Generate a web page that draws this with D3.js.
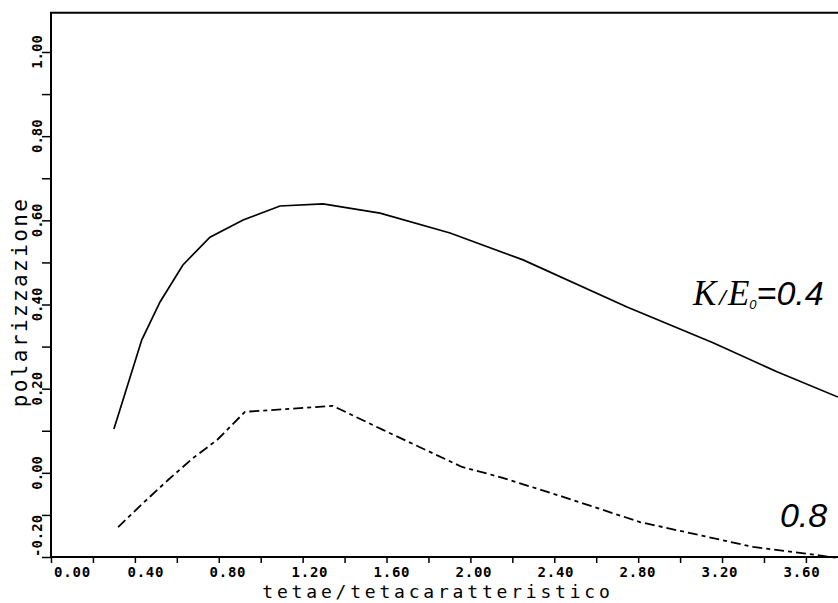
<!DOCTYPE html>
<html>
<head>
<meta charset="utf-8">
<script src="https://cdn.jsdelivr.net/npm/d3@7"></script>
<style>
    body { margin: 0; background: #fff; }
</style>
</head>
<body>
<div class="container"></div>
<script>
// curve K/E0 = 0.4 (solid)
var solidX = [0.300, 0.433, 0.520, 0.629, 0.758, 0.916, 1.092, 1.297, 1.569, 1.903, 2.251, 2.747, 3.157, 3.462, 3.753];
var solidY = [0.104, 0.316, 0.406, 0.494, 0.560, 0.601, 0.634, 0.639, 0.617, 0.570, 0.506, 0.394, 0.309, 0.240, 0.180];

// curve K/E0 = 0.8 (dashed)
var dashX = [0.320, 0.439, 0.558, 0.677, 0.792, 0.925, 1.345, 1.583, 1.960, 2.141, 2.442, 2.809, 3.348, 3.753];
var dashY = [-0.129, -0.072, -0.017, 0.035, 0.078, 0.145, 0.159, 0.102, 0.014, -0.010, -0.057, -0.117, -0.176, -0.202];

var xTicks = [0, 0.2, 0.4, 0.6, 0.8, 1.0, 1.2, 1.4, 1.6, 1.8, 2.0, 2.2, 2.4, 2.6, 2.8, 3.0, 3.2, 3.4, 3.6];
var xLabels = [0.00, 0.40, 0.80, 1.20, 1.60, 2.00, 2.40, 2.80, 3.20, 3.60];
var yTicks = [-0.2, -0.1, 0.0, 0.1, 0.2, 0.3, 0.4, 0.5, 0.6, 0.7, 0.8, 0.9, 1.0];
var yLabels = [-0.20, 0.00, 0.20, 0.40, 0.60, 0.80, 1.00];

var xMax = 3.753;
var yTop = 1.093;

drawChart();

function drawChart() {
    const width = 838
    const height = 603

    var svg = d3.select('.container')
        .append('svg')
        .attr('width', width)
        .attr('height', height)

    var x = d3.scaleLinear().domain([0, xMax]).range([51, width])
    var y = d3.scaleLinear().domain([-0.2, 1.0]).range([557, 52])

    // labels of the plotter drift a bit from the ticks
    var xl = d3.scaleLinear().domain([0.4, 3.6]).range([x(0.4) + 11, x(3.6) - 4])

    var mono = '"DejaVu Sans Mono", monospace'
    var serif = '"Liberation Serif", serif'
    var sans = '"Liberation Sans", sans-serif'

    // ticks
    svg.append('g')
        .attr('transform', 'translate(0,' + y(-0.2) + ')')
        .call(d3.axisBottom(x).tickValues(xTicks).tickSize(6).tickFormat(''))
        .call(function (g) { g.select('.domain').remove() })
        .selectAll('line').attr('stroke', '#000').attr('stroke-width', 1.5)

    svg.append('g')
        .attr('transform', 'translate(' + x(0) + ',0)')
        .call(d3.axisLeft(y).tickValues(yTicks).tickSize(9).tickFormat(''))
        .call(function (g) { g.select('.domain').remove() })
        .selectAll('line').attr('stroke', '#000').attr('stroke-width', 1.5)

    // frame
    svg.append('path')
        .attr('d', 'M' + width + ',' + y(yTop) + 'H' + x(0) + 'V' + y(-0.2) + 'H' + width)
        .attr('fill', 'none')
        .attr('stroke', '#000')
        .attr('stroke-width', 2)

    // x tick labels
    svg.append('g')
        .selectAll('text')
        .data(xLabels)
        .enter().append('text')
        .attr('x', function (d) { return d == 0 ? x(0) + 3 : xl(d) })
        .attr('y', 577)
        .attr('text-anchor', function (d) { return d == 0 ? 'start' : 'middle' })
        .attr('font-family', mono)
        .attr('font-weight', 'bold')
        .attr('font-size', '14px')
        .attr('letter-spacing', '0.8px')
        .text(function (d) { return d.toFixed(2) })

    // y tick labels, rotated
    svg.append('g')
        .selectAll('text')
        .data(yLabels)
        .enter().append('text')
        .attr('transform', function (d) { return 'translate(42,' + y(d) + ') rotate(-90)' })
        .attr('text-anchor', function (d) { return d == -0.2 ? 'start' : 'middle' })
        .attr('font-family', mono)
        .attr('font-weight', 'bold')
        .attr('font-size', '14px')
        .text(function (d) { return d.toFixed(2) })

    // axis titles
    svg.append('text')
        .attr('x', 438)
        .attr('y', 598)
        .attr('text-anchor', 'middle')
        .attr('font-family', mono)
        .attr('font-size', '18px')
        .attr('letter-spacing', '3.8px')
        .text('tetae/tetacaratteristico')

    svg.append('text')
        .attr('transform', 'translate(27,302) rotate(-90)')
        .attr('text-anchor', 'middle')
        .attr('font-family', mono)
        .attr('font-size', '21px')
        .attr('letter-spacing', '2.4px')
        .text('polarizzazione')

    // curves
    var line = d3.line()
        .x(function (d) { return x(d[0]) })
        .y(function (d) { return y(d[1]) })

    svg.append('path')
        .datum(d3.zip(solidX, solidY))
        .attr('d', line)
        .attr('fill', 'none')
        .attr('stroke', '#000')
        .attr('stroke-width', 1.7)

    svg.append('path')
        .datum(d3.zip(dashX, dashY))
        .attr('d', line)
        .attr('fill', 'none')
        .attr('stroke', '#000')
        .attr('stroke-width', 1.8)
        .attr('stroke-dasharray', '10,4,4,4')

    // curve annotations
    var lab1 = svg.append('text')
        .attr('x', x(3.061))
        .attr('y', y(0.40))
        .attr('font-size', '35px')
        .attr('font-style', 'italic')
    lab1.append('tspan').attr('font-family', serif).text('K')
    lab1.append('tspan').attr('font-family', serif).attr('font-weight', 'bold').attr('font-size', '24px').attr('dx', 3).text('/')
    lab1.append('tspan').attr('font-family', serif).attr('dx', 2).text('E')
    lab1.append('tspan').attr('font-family', sans).attr('font-size', '13px').attr('dy', 4).text('0')
    lab1.append('tspan').attr('font-family', sans).attr('font-size', '34px').attr('dy', -4).text('=0.4')

    svg.append('text')
        .attr('x', x(3.476))
        .attr('y', y(-0.129))
        .attr('font-family', sans)
        .attr('font-style', 'italic')
        .attr('font-size', '34px')
        .text('0.8')
}
</script>
</body>
</html>
